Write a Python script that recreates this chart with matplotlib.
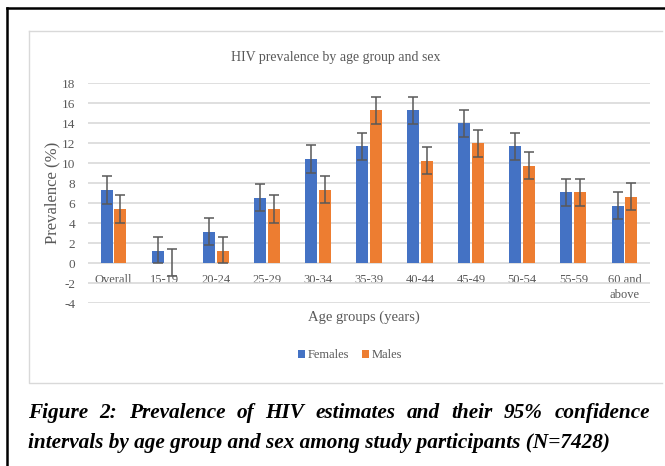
import matplotlib
matplotlib.use("Agg")
import matplotlib.pyplot as plt
from matplotlib.lines import Line2D
import numpy as np

# data
groups = ["Overall", "15-19", "20-24", "25-29", "30-34", "35-39",
          "40-44", "45-49", "50-54", "55-59", "60 and\nabove"]
females = [7.3, 1.2, 3.1, 6.5, 10.4, 11.7, 15.3, 14.0, 11.7, 7.1, 5.7]
females_lo = [5.9, 0.0, 1.8, 5.2, 9.0, 10.3, 13.9, 12.6, 10.3, 5.7, 4.4]
females_hi = [8.7, 2.6, 4.5, 7.9, 11.8, 13.0, 16.6, 15.3, 13.0, 8.4, 7.1]
males = [5.4, 0.05, 1.2, 5.4, 7.3, 15.3, 10.2, 12.0, 9.7, 7.1, 6.6]
males_lo = [4.0, -1.3, 0.0, 4.0, 6.0, 13.9, 8.9, 10.6, 8.4, 5.7, 5.3]
males_hi = [6.8, 1.4, 2.6, 6.8, 8.7, 16.6, 11.6, 13.3, 11.1, 8.4, 8.0]
yticks = list(range(-4, 19, 2))

caption1 = "Figure 2: Prevalence of HIV estimates and their 95% confidence"
caption2 = "intervals by age group and sex among study participants (N=7428)"

plt.rcParams['font.family'] = ['Liberation Serif', 'DejaVu Serif']
plt.rcParams['axes.unicode_minus'] = False
blue = "#4472C4"
orange = "#ED7D31"
grey = "#595959"

fig = plt.figure(figsize=(6.65, 4.66), dpi=100)
W, H = 665.0, 466.0

# outer black border (top and left) and light chart frame
fig.add_artist(Line2D([7 / W, 1], [1 - 8 / H, 1 - 8 / H], color="black", lw=1.8))
fig.add_artist(Line2D([7 / W, 7 / W], [0, 1 - 8 / H], color="black", lw=1.8))
fig.add_artist(Line2D([29 / W, 29 / W, 662 / W], [1 - 31 / H, 1 - 383 / H, 1 - 383 / H],
                      color="#D9D9D9", lw=1))
fig.add_artist(Line2D([29 / W, 662 / W], [1 - 31 / H, 1 - 31 / H], color="#D9D9D9", lw=1))

ax = fig.add_axes([88 / W, 1 - 303 / H, 562 / W, 220 / H])
x = np.arange(len(groups))
w = 0.235
off = 0.135

f_err = [np.array(females) - np.array(females_lo), np.array(females_hi) - np.array(females)]
m_err = [np.array(males) - np.array(males_lo), np.array(males_hi) - np.array(males)]

ax.bar(x - off, females, w, color=blue, label="Females", zorder=3)
ax.bar(x + off, males, w, color=orange, label="Males", zorder=3)
ax.errorbar(x - off, females, yerr=f_err, fmt="none", ecolor=grey, elinewidth=1.1,
            capsize=3.5, capthick=1.1, zorder=4)
ax.errorbar(x + off, males, yerr=m_err, fmt="none", ecolor=grey, elinewidth=1.1,
            capsize=3.5, capthick=1.1, zorder=4)

ax.set_xlim(-0.5, len(groups) - 0.5)
ax.set_ylim(-4, 18)
ax.set_yticks(yticks)
ax.yaxis.grid(True, color="#D9D9D9", lw=1.2, zorder=0)
for s in ["top", "right", "left"]:
    ax.spines[s].set_visible(False)
# category labels sit under the zero line, as in Excel
ax.spines["bottom"].set_position(("data", 0))
ax.spines["bottom"].set_visible(False)
ax.set_xticks(x)
ax.set_xticklabels(groups, fontsize=9, color=grey, linespacing=1.3)
ax.tick_params(axis="x", length=0, pad=8)
ax.tick_params(axis="y", length=0, pad=9, labelsize=9.5, labelcolor=grey)

ax.set_ylabel("Prevalence (%)", fontsize=12, color=grey)
ax.yaxis.set_label_coords(-0.05, 0.5)
fig.text(364 / W, 1 - 317 / H, "Age groups (years)", fontsize=10.5, color=grey,
         ha="center", va="center")
fig.text(336 / W, 1 - 57 / H, "HIV prevalence by age group and sex", fontsize=10,
         color=grey, ha="center", va="center")

fig.legend(loc="center", bbox_to_anchor=(350 / W, 1 - 355 / H), ncol=2, frameon=False,
           fontsize=9, labelcolor=grey, handlelength=0.6, handleheight=0.6,
           handletextpad=0.2, columnspacing=1.0)

# caption, first line justified between the frame edges
cap_kw = dict(fontsize=15.3, fontweight="bold", fontstyle="italic", color="black",
              va="center")
fig.canvas.draw()
r = fig.canvas.get_renderer()
words = caption1.split(" ")
arts = [fig.text(0, 1 - 413 / H, wd, **cap_kw) for wd in words]
widths = [a.get_window_extent(r).width for a in arts]
left, right = 28.0, 650.0
gap = (right - left - sum(widths)) / (len(words) - 1)
xpos = left
for a, wd in zip(arts, widths):
    a.set_x(xpos / W)
    xpos += wd + gap
fig.text(left / W, 1 - 443 / H, caption2, **cap_kw)

fig.savefig("out.png", dpi=100)
